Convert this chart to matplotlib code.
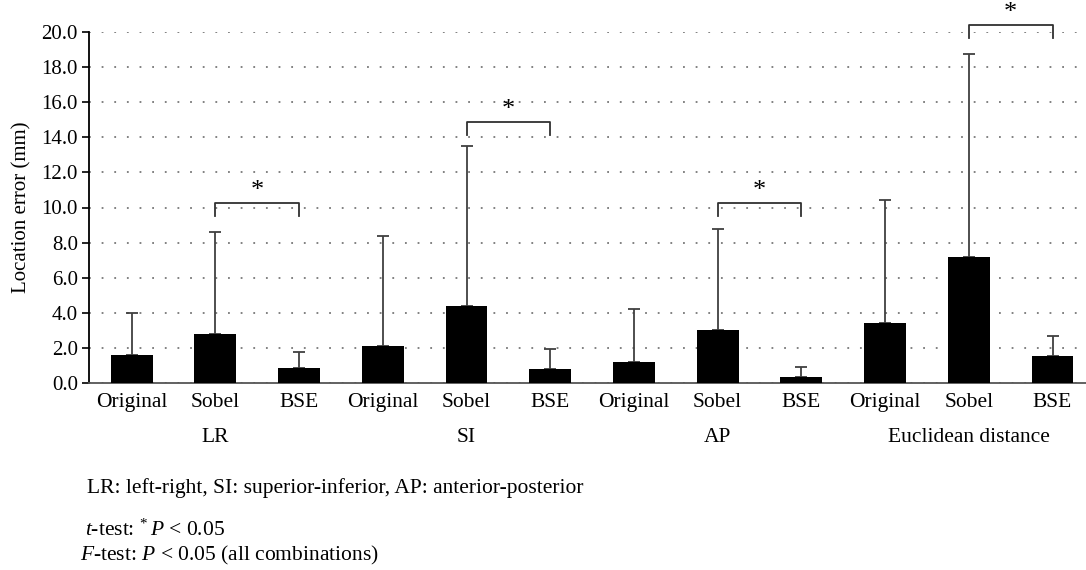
import matplotlib
matplotlib.use("Agg")
import matplotlib.pyplot as plt
import matplotlib.transforms as mtransforms

# ---- data ----
methods = ["Original", "Sobel", "BSE"] * 4
groups = ["LR", "SI", "AP", "Euclidean distance"]
means = [1.6, 2.8, 0.85, 2.1, 4.4, 0.8, 1.2, 3.0, 0.35, 3.4, 7.2, 1.55]
sds = [2.4, 5.8, 0.9, 6.25, 9.1, 1.15, 3.0, 5.75, 0.55, 7.05, 11.55, 1.15]
# significant pairs (index a, index b, bracket height)
sig_pairs = [(1, 2, 10.25), (4, 5, 14.9), (7, 8, 10.25), (10, 11, 20.4)]
yticks = [0, 2, 4, 6, 8, 10, 12, 14, 16, 18, 20]

plt.rcParams['font.family'] = ['Liberation Serif', 'DejaVu Serif']
plt.rcParams['mathtext.fontset'] = 'custom'
plt.rcParams['mathtext.rm'] = 'Liberation Serif'
plt.rcParams['mathtext.it'] = 'Liberation Serif:italic'

fig = plt.figure(figsize=(10.86, 5.70), dpi=100)
ax = fig.add_axes([89 / 1086, 187 / 570, 997 / 1086, 351 / 570])

x = list(range(len(means)))
ax.bar(x, means, width=0.5, color='black', zorder=3)
ax.errorbar(x, means, yerr=[[0] * len(sds), sds], fmt='none', ecolor='#404040',
            elinewidth=1.3, capsize=4, capthick=1.3, zorder=2)

ax.set_xlim(-0.51, 11.4)
ax.set_ylim(0, 20)
ax.set_yticks(yticks)
ax.set_yticklabels([f"{v:.1f}" for v in yticks])
ax.set_xticks(x)
ax.set_xticklabels(methods)
ax.tick_params(axis='x', length=0, pad=7, labelsize=15.5)
ax.tick_params(axis='y', length=5, width=1.2, direction='out', labelsize=15, pad=3)
ax.set_ylabel("Location error (mm)", fontsize=15, labelpad=7)

ax.yaxis.grid(True, linestyle=(0, (1, 6)), linewidth=1.3, color='#777777', zorder=0)
ax.set_axisbelow(True)
for s in ['top', 'right']:
    ax.spines[s].set_visible(False)
ax.spines['left'].set_linewidth(1.3)
ax.spines['bottom'].set_linewidth(1.3)
ax.spines['bottom'].set_color('#555555')

# group labels under the method labels
trans = mtransforms.blended_transform_factory(ax.transData, ax.transAxes)
for i, g in enumerate(groups):
    ax.text(3 * i + 1, -54 / 351, g, transform=trans, ha='center', va='center',
            fontsize=15.5)

# significance brackets
drop = 0.75
for a, b, h in sig_pairs:
    ax.plot([a, a, b, b], [h - drop, h, h, h - drop], color='#303030',
            linewidth=1.3, clip_on=False, zorder=4)
    ax.text((a + b) / 2, h + 0.05, "*", ha='center', va='bottom',
            fontsize=19, clip_on=False)

# notes
fig.text(87 / 1086, 1 - 488 / 570, "LR: left-right, SI: superior-inferior, AP: anterior-posterior",
         ha='left', va='center', fontsize=15.5)
fig.text(85 / 1086, 1 - 530 / 570, r"$t$-test: $^{*}\,P$ < 0.05",
         ha='left', va='center', fontsize=15.5)
fig.text(80 / 1086, 1 - 555 / 570, r"$F$-test: $P$ < 0.05 (all combinations)",
         ha='left', va='center', fontsize=15.5)

fig.savefig("out.png", dpi=100)
plt.close(fig)
